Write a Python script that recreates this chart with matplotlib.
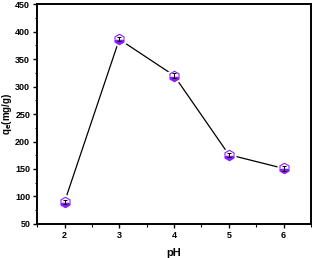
import numpy as np
import matplotlib.pyplot as plt
from matplotlib.ticker import MultipleLocator

ph = [2, 3, 4, 5, 6]
qe = [90, 386, 320, 176, 151]
qe_err = [3, 4, 4, 4, 4]

plt.rcParams['font.family'] = ['Liberation Sans', 'DejaVu Sans']
plt.rcParams['font.weight'] = 'bold'

fig = plt.figure(figsize=(3.12, 2.58), dpi=100)
ax = fig.add_axes([0.119, 0.132, 0.878, 0.852])

purple = '#8a1cff'
ax.plot(ph, qe, color='black', linewidth=0.9, zorder=1)
# white hexagons underneath make the gap between line and markers
ax.plot(ph, qe, linestyle='none', marker='h', markersize=10.5,
        markerfacecolor='white', markeredgecolor='white', zorder=2)
ax.plot(ph, qe, linestyle='none', marker='h', markersize=7.5, fillstyle='bottom',
        markerfacecolor=purple, markerfacecoloralt='white',
        markeredgecolor=purple, markeredgewidth=0.8, zorder=3)
ax.errorbar(ph, qe, yerr=qe_err, fmt='none', ecolor='black', elinewidth=0.7,
            capsize=1.5, capthick=0.7, zorder=4)

ax.set_xlim(1.5, 6.5)
ax.set_ylim(50, 450)
ax.xaxis.set_major_locator(MultipleLocator(1))
ax.xaxis.set_minor_locator(MultipleLocator(0.5))
ax.yaxis.set_major_locator(MultipleLocator(50))
ax.yaxis.set_minor_locator(MultipleLocator(25))
ax.tick_params(which='major', direction='out', length=3, width=1.0, labelsize=6.5, pad=2)
ax.tick_params(which='minor', direction='out', length=1.8, width=0.8)
for lab in ax.get_xticklabels() + ax.get_yticklabels():
    lab.set_fontweight('bold')
for s in ax.spines.values():
    s.set_linewidth(1.4)

ax.set_xlabel('pH', fontsize=8, fontweight='bold', labelpad=6)
ax.set_ylabel(r'q$_\mathbf{e}$(mg/g)', fontsize=7, fontweight='bold', labelpad=1)

fig.savefig('out.png', dpi=100)
